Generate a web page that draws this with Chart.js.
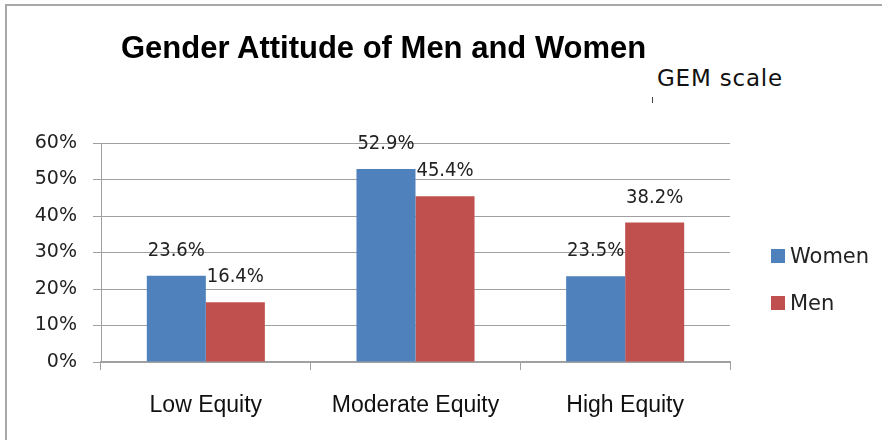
<!DOCTYPE html>
<html>
<head>
<meta charset="utf-8">
<script src="https://cdn.jsdelivr.net/npm/chart.js@4/dist/chart.umd.min.js"></script>
<style>
  body { margin:0; background:#fff; }
  #wrap { position:relative; width:882px; height:440px; overflow:hidden; }
  #frame { position:absolute; left:5px; top:4px; width:900px; height:460px; border-top:2px solid #a8a8a8; border-left:2px solid #a8a8a8; }
  #chart { position:absolute; left:0; top:0; }
  #title { position:absolute; left:121px; top:32px; width:530px; overflow:hidden; white-space:nowrap;
           font:bold 31px "Liberation Sans", Arial, sans-serif; line-height:31px; color:#000; }
  #sub { position:absolute; left:652px; top:28px; width:180px; height:87px; background:#fff; }
  #sub span { position:absolute; left:5px; top:39px; font:23px "DejaVu Sans", sans-serif; line-height:23px; letter-spacing:0.8px; color:#111; white-space:nowrap; }
  #sub i { position:absolute; left:0; top:69px; width:1px; height:6px; background:#444; }
  #legend { position:absolute; left:771px; top:240px; font:21px "DejaVu Sans", sans-serif; color:#222; }
  .item { position:relative; height:47px; white-space:nowrap; }
  .box { position:absolute; left:0; top:9px; width:14px; height:14px; }
  .lab { position:absolute; left:19px; top:4px; line-height:24px; }
</style>
</head>
<body>
<div id="wrap">
  <div id="frame"></div>
  <canvas id="chart" width="882" height="440"></canvas>
  <div id="title">Gender Attitude of Men and Women</div>
  <div id="sub"><span>GEM scale</span><i></i></div>
  <div id="legend"></div>
</div>
<script>
// data (percent)
const categories = ["Low Equity", "Moderate Equity", "High Equity"]
const women = [23.6, 52.9, 23.5]
const men = [16.4, 45.4, 38.2]
const seriesNames = ["Women", "Men"]
const seriesColors = ["#4f81bd", "#c0504d"]

// value labels above each bar
const valueLabels = {
    id: "valueLabels",
    afterDatasetsDraw(chart) {
        const ctx = chart.ctx
        ctx.save()
        ctx.font = '20px "DejaVu Sans Condensed", "DejaVu Sans", sans-serif'
        ctx.fillStyle = "#222"
        ctx.textAlign = "center"
        ctx.textBaseline = "middle"
        chart.data.datasets.forEach((ds, i) => {
            chart.getDatasetMeta(i).data.forEach((bar, j) => {
                ctx.fillText(ds.data[j].toFixed(1) + "%", bar.x, bar.y - 25)
            })
        })
        ctx.restore()
    }
}

const gridColor = "#a0a0a0"

new Chart(document.getElementById("chart"), {
    type: "bar",
    data: {
        labels: categories,
        datasets: [
            { label: seriesNames[0], data: women, backgroundColor: seriesColors[0] },
            { label: seriesNames[1], data: men, backgroundColor: seriesColors[1] }
        ]
    },
    options: {
        responsive: false,
        animation: false,
        categoryPercentage: 0.563,
        barPercentage: 1,
        layout: { padding: { left: 0, top: 143, right: 152, bottom: 0 } },
        plugins: {
            legend: { display: false },
            tooltip: { enabled: false }
        },
        scales: {
            x: {
                grid: { drawOnChartArea: false, color: gridColor, tickLength: 8 },
                border: { color: gridColor, width: 2 },
                ticks: { color: "#111", padding: 22, font: { family: "Liberation Sans", size: 23 } },
                afterFit(scale) { scale.height = 78 }
            },
            y: {
                min: 0,
                max: 60,
                ticks: {
                    stepSize: 10,
                    color: "#222",
                    padding: 16,
                    font: { family: "DejaVu Sans", size: 19 },
                    callback: v => v + "%"
                },
                grid: { color: gridColor, tickLength: 8 },
                border: { color: gridColor },
                afterFit(scale) { scale.width = 101 }
            }
        }
    },
    plugins: [valueLabels]
})

// legend
const legend = document.getElementById("legend")
seriesNames.forEach((name, i) => {
    const item = document.createElement("div")
    item.className = "item"
    item.innerHTML = '<div class="box" style="background:' + seriesColors[i] + '"></div><div class="lab">' + name + '</div>'
    legend.appendChild(item)
})
</script>
</body>
</html>
